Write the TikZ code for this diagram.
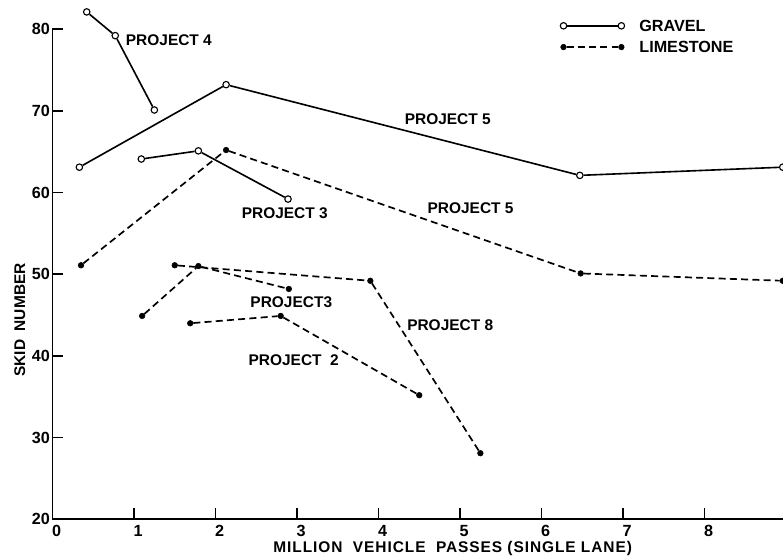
\documentclass[tikz,border=0pt]{standalone}
\usepackage{fontspec}
\setmainfont{Liberation Sans}
\usepackage{tikz}
\usetikzlibrary{positioning}

\begin{document}
\begin{tikzpicture}[x=2.0375cm, y=0.2043cm, every node/.style={font=\bfseries\fontsize{11}{13}\selectfont},
  gpt/.style={circle, draw, fill=white, line width=0.8pt, inner sep=0pt, minimum size=4.6pt},
  lpt/.style={circle, draw, fill=black, inner sep=0pt, minimum size=4pt},
  gline/.style={line width=1.15pt},
  lline/.style={line width=1.2pt, dash pattern=on 5pt off 3pt},
  lbl/.style={inner sep=1pt},
  tick/.style={font=\bfseries\fontsize{11.5}{13}\selectfont, inner sep=0pt}]
\useasboundingbox (-0.644,15.39) rectangle (8.963,83.56);
\coordinate (orig) at (0,20);
\coordinate (ytop) at (0,80);
\coordinate (xend) at (9.2,20);
\draw[line width=1.4pt] (ytop) -- (orig) -- (xend);
\foreach \v in {20,30,...,80} {
  \draw[line width=1.1pt] (0,\v) -- ++(0.13,0);
  \node[tick, anchor=east] (yl\v) at (-0.03,\v) {\v};
}
\foreach \u in {1,...,9} {
  \draw[line width=1.1pt] (\u,20) -- ++(0,1.45);
}
\foreach \u in {0,...,9} {
  \node[tick] (xl\u) at (\u+0.05,18.55) {\u};
}
\node[inner sep=0pt, font=\bfseries\fontsize{11}{13}\selectfont\addfontfeature{LetterSpace=6}] (xtitle) at (4.91,16.45) {MILLION\ \ VEHICLE\ \ PASSES (SINGLE LANE)};
\node[rotate=90] (ytitle) at (-0.40,44.4) {SKID\ \ NUMBER};

\node[gpt] (g4a) at (0.42,82.1) {};
\node[gpt] (g4b) at (0.77,79.2) {};
\node[gpt] (g4c) at (1.25,70.1) {};
\draw[gline] (g4a) -- (g4b) -- (g4c);
\node[lbl, anchor=west] (p4) at (0.88,78.6) {PROJECT 4};

\node[gpt] (g5a) at (0.33,63.1) {};
\node[gpt] (g5b) at (2.13,73.2) {};
\node[gpt] (g5c) at (6.47,62.1) {};
\node[gpt] (g5d) at (8.96,63.1) {};
\draw[gline] (g5a) -- (g5b) -- (g5c) -- (g5d);
\node[lbl] (p5g) at (4.85,69.0) {PROJECT 5};

\node[gpt] (g3a) at (1.09,64.1) {};
\node[gpt] (g3b) at (1.79,65.1) {};
\node[gpt] (g3c) at (2.89,59.2) {};
\draw[gline] (g3a) -- (g3b) -- (g3c);
\node[lbl] (p3g) at (2.85,57.5) {PROJECT 3};

\node[lpt] (l5a) at (0.35,51.1) {};
\node[lpt] (l5b) at (2.13,65.2) {};
\node[lpt] (l5c) at (6.48,50.1) {};
\node[lpt] (l5d) at (8.96,49.2) {};
\draw[lline] (l5a) -- (l5b) -- (l5c) -- (l5d);
\node[lbl] (p5l) at (5.13,58.1) {PROJECT 5};

\node[lpt] (l3a) at (1.10,44.9) {};
\node[lpt] (l3b) at (1.79,51.0) {};
\node[lpt] (l3c) at (2.90,48.2) {};
\draw[lline] (l3a) -- (l3b) -- (l3c);
\node[lbl] (p3l) at (2.93,46.6) {PROJECT3};

\node[lpt] (l8a) at (1.50,51.1) {};
\node[lpt] (l8b) at (3.90,49.2) {};
\node[lpt] (l8c) at (5.25,28.1) {};
\draw[lline] (l8a) -- (l8b) -- (l8c);
\node[lbl] (p8) at (4.88,43.8) {PROJECT 8};

\node[lpt] (l2a) at (1.69,44.0) {};
\node[lpt] (l2b) at (2.80,44.9) {};
\node[lpt] (l2c) at (4.50,35.2) {};
\draw[lline] (l2a) -- (l2b) -- (l2c);
\node[lbl] (p2) at (2.96,39.5) {PROJECT\ \ 2};

\node[gpt] (kga) at (6.27,80.4) {};
\node[gpt] (kgb) at (6.98,80.4) {};
\draw[gline] (kga) -- (kgb);
\node[lbl, anchor=west, font=\bfseries\fontsize{11.5}{13}\selectfont] (kgt) at (7.18,80.4) {GRAVEL};
\node[lpt] (kla) at (6.27,77.8) {};
\node[lpt] (klb) at (6.98,77.8) {};
\draw[lline] (kla) -- (klb);
\node[lbl, anchor=west, font=\bfseries\fontsize{11.5}{13}\selectfont] (klt) at (7.18,77.8) {LIMESTONE};
\end{tikzpicture}
\end{document}
